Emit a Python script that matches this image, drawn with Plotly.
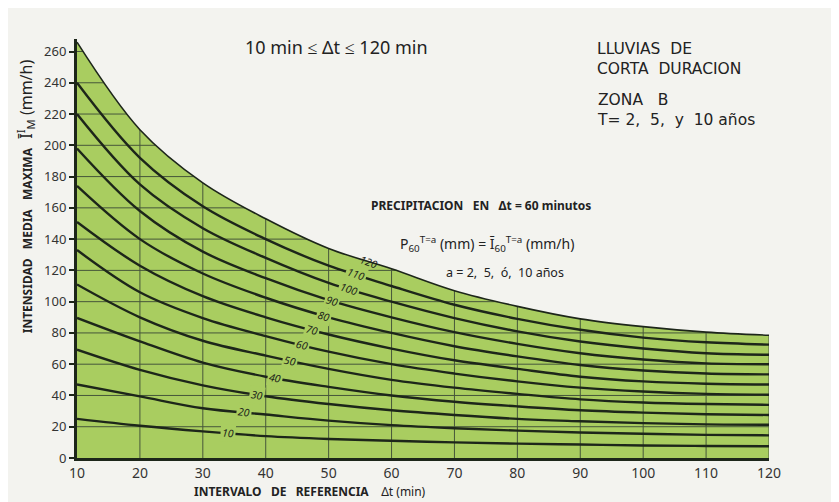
import numpy as np
import plotly.graph_objects as go

# ---------------- data ----------------
durations = [10, 20, 30, 40, 50, 60, 70, 80, 90, 100, 110, 120]   # Δt (min)
curve_labels = [10, 20, 30, 40, 50, 60, 70, 80, 90, 100, 110, 120]  # P60 (mm)

i_a10 = [25, 20.6, 17, 14, 12.2, 11, 10, 9.2, 8.6, 8, 7.7, 7.5]
i_a20 = [47, 39.4, 31.8, 27.8, 23.9, 21, 19, 17.5, 16.3, 15.5, 14.8, 14.5]
i_a30 = [69.3, 56.4, 46.5, 39.5, 34.5, 30.5, 27.5, 25, 23.5, 22.3, 21.5, 21.3]
i_a40 = [89.6, 74.6, 61, 52, 45.5, 40, 36, 33, 30.5, 29, 28, 27.5]
i_a50 = [111, 90, 75, 65.5, 57, 50, 45, 41, 37.5, 35.5, 34.5, 34]
i_a60 = [133, 106, 89.5, 78, 68, 60, 54, 49, 45, 42.5, 41, 40.5]
i_a70 = [151, 123, 103.5, 90, 79, 70, 62.5, 57, 52, 49, 47.5, 47]
i_a80 = [174, 140, 118, 102.5, 90, 80, 71.5, 65, 59.5, 56, 54, 53.5]
i_a90 = [198, 158, 132, 115, 101, 90, 80.5, 73, 67, 63, 60.5, 60]
i_a100 = [220, 175, 147, 128, 112, 100, 89.5, 81, 74.5, 70, 67, 66]
i_a110 = [240, 192, 161, 140, 123, 110, 98, 89, 82, 77, 74, 72.5]
i_a120 = [266, 210, 176, 153, 134, 121, 107, 97, 89, 84, 80.5, 78.5]

series = [i_a10, i_a20, i_a30, i_a40, i_a50, i_a60,
          i_a70, i_a80, i_a90, i_a100, i_a110, i_a120]

x_ticks = [10, 20, 30, 40, 50, 60, 70, 80, 90, 100, 110, 120]
y_ticks = [0, 20, 40, 60, 80, 100, 120, 140, 160, 180, 200, 220, 240, 260]

# where along each curve its label sits (Δt, min)
label_x = [34, 36.5, 38.6, 41.5, 43.9, 45.8, 47.4, 49.2, 50.6, 53.2, 54.3, 56.4]

# ---------------- styling ----------------
# the page adds an 8 px body margin, so the figure is 8 px smaller
W, H = 831, 494
M_L, M_R, M_T, M_B = 69, 70, 31, 44
YMAX = 268
GREEN = "#a9cd60"
BG = "#f3f3ef"
INK = "#1d261a"
GRID = "#46563a"
FONT = "Noto Sans"
WIDE = "DejaVu Sans"

px_per_x = (W - M_L - M_R) / (x_ticks[-1] - x_ticks[0])
px_per_y = (H - M_T - M_B) / YMAX

fig = go.Figure()

top = series[-1]
# green area under the envelope curve
fig.add_trace(go.Scatter(x=durations, y=top, mode="lines", fill="tozeroy",
                         fillcolor=GREEN, line=dict(width=0, shape="spline"),
                         hoverinfo="skip", showlegend=False))

# grid lines (later masked above the envelope)
gx, gy = [], []
for xv in x_ticks[1:]:
    gx += [xv, xv, None]
    gy += [0, YMAX, None]
for yv in y_ticks[1:]:
    gx += [x_ticks[0], x_ticks[-1], None]
    gy += [yv, yv, None]
fig.add_trace(go.Scatter(x=gx, y=gy, mode="lines", line=dict(color=GRID, width=1),
                         hoverinfo="skip", showlegend=False))

# mask everything above the envelope with background colour
fig.add_trace(go.Scatter(x=[x_ticks[0], x_ticks[-1]], y=[YMAX, YMAX], mode="lines",
                         line=dict(width=0), hoverinfo="skip", showlegend=False))
fig.add_trace(go.Scatter(x=durations, y=top, mode="lines", fill="tonexty",
                         fillcolor=BG, line=dict(width=0, shape="spline"),
                         hoverinfo="skip", showlegend=False))

# the intensity curves
for lab, ys in zip(curve_labels, series):
    fig.add_trace(go.Scatter(
        x=durations, y=ys, mode="lines",
        line=dict(color=INK, width=1.6 if lab == curve_labels[-1] else 2.4,
                  shape="spline"),
        name=str(lab), showlegend=False))

# curve labels
for lab, ys, lx in zip(curve_labels, series, label_x):
    yv = float(np.interp(lx, durations, ys))
    slope = np.gradient(np.array(ys, float), np.array(durations, float))
    s = float(np.interp(lx, durations, slope))
    ang = np.degrees(np.arctan(-s * px_per_y / px_per_x))
    bg = "rgba(0,0,0,0)" if lab == curve_labels[-1] else GREEN
    fig.add_annotation(x=lx, y=yv, text=f"<i>{lab}</i>", showarrow=False,
                       textangle=ang, bgcolor=bg, borderpad=1,
                       font=dict(family=FONT, size=10.5, color=INK))

# ---------------- texts ----------------
fig.add_annotation(x=51.2, y=263, text="10 min ≤ Δt ≤ 120 min", showarrow=False,
                   font=dict(family=FONT, size=18, color="#222"))

fig.add_annotation(x=92.3, y=255.2, text="LLUVIAS  DE<br>CORTA  DURACION",
                   showarrow=False, xanchor="left", yanchor="middle", align="left",
                   font=dict(family=WIDE, size=15.5, color="#222"))
fig.add_annotation(x=92.3, y=222.6, text="ZONA   B<br>T= 2,  5,  y  10 años",
                   showarrow=False, xanchor="left", yanchor="middle", align="left",
                   font=dict(family=WIDE, size=15.5, color="#222"))

fig.add_annotation(x=74.2, y=161.3, text="<b>PRECIPITACION   EN   Δt = 60 minutos</b>",
                   showarrow=False, font=dict(family=FONT, size=12, color="#222"))
fig.add_annotation(x=75.2, y=137,
                   text="P<sub>60</sub><sup>T=a</sup> (mm) = Ī<sub>60</sub><sup>T=a</sup> (mm/h)",
                   showarrow=False, font=dict(family=FONT, size=14, color="#222"))
fig.add_annotation(x=78, y=118.7, text="a = 2,  5,  ó,  10 años", showarrow=False,
                   font=dict(family=FONT, size=12.5, color="#222"))

fig.add_annotation(xref="paper", yref="paper", x=-0.075, y=0.625,
                   xanchor="center", yanchor="middle",
                   text="<b>INTENSIDAD   MEDIA   MAXIMA</b>   "
                        "<span style='font-size:16px'>Ī<sup>I</sup><sub>M</sub> (mm/h)</span>",
                   textangle=-90, showarrow=False,
                   font=dict(family=FONT, size=12, color="#222"))
fig.add_annotation(xref="paper", yref="paper", x=0.337, y=-0.081,
                   xanchor="center", yanchor="middle",
                   text="<b>INTERVALO   DE   REFERENCIA</b>    Δt (min)",
                   showarrow=False, font=dict(family=FONT, size=12, color="#222"))

fig.update_xaxes(range=[x_ticks[0], x_ticks[-1]], tickvals=x_ticks,
                 showgrid=False, zeroline=False, showline=True, linewidth=3,
                 linecolor=INK, ticks="", tickfont=dict(family=FONT, size=14, color="#333"))
fig.update_yaxes(range=[0, YMAX], tickvals=y_ticks, showgrid=False, zeroline=False,
                 showline=True, linewidth=3, linecolor=INK, ticks="outside",
                 ticklen=5, tickwidth=1.5, tickcolor=INK,
                 tickfont=dict(family=FONT, size=13, color="#333"))

fig.update_layout(width=W, height=H, margin=dict(l=M_L, r=M_R, t=M_T, b=M_B),
                  paper_bgcolor=BG, plot_bgcolor=BG, showlegend=False)

fig.write_html("out.html")
